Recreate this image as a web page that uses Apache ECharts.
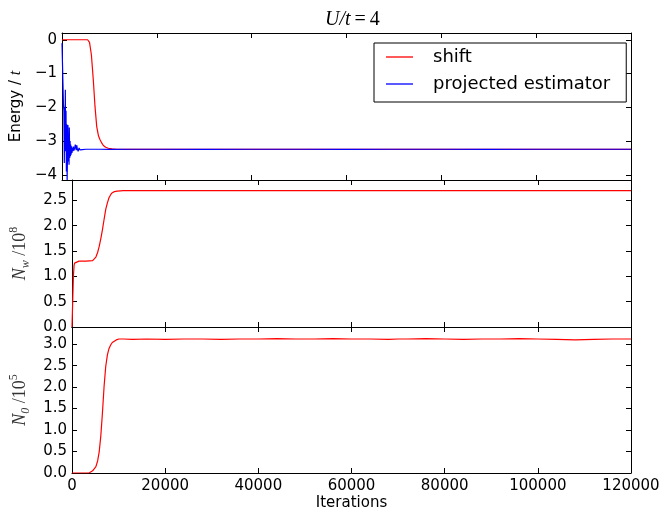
<!DOCTYPE html>
<html>
<head>
<meta charset="utf-8">
<script src="https://cdn.jsdelivr.net/npm/echarts@6/dist/echarts.min.js"></script>
<style>
  html, body { margin: 0; padding: 0; background: #fff; }
  #chart { width: 663px; height: 512px; }
</style>
</head>
<body>
<div id="chart"></div>
<script>
// iteration ticks + tick values for each panel
const iterTicks = [0, 20000, 40000, 60000, 80000, 100000, 120000];
const energyTicks = [0, -1, -2, -3, -4];
const nwTicks = [0, 0.5, 1.0, 1.5, 2.0, 2.5];
const n0Ticks = [0, 0.5, 1.0, 1.5, 2.0, 2.5, 3.0];

// shift (top panel, red)
const shiftIter = [0, 5400, 5800, 6200, 6600, 6960, 7320, 7700, 8020, 8400, 8720, 9200, 9780, 10500, 11500, 14000,
  20000, 30000, 40000, 50000, 60000, 70000, 80000, 90000, 100000, 110000, 120000];
const shiftVal = [0, 0, -0.08, -0.45, -1.19, -1.98, -2.57, -2.85, -2.96, -3.06, -3.13, -3.18, -3.21, -3.23, -3.24, -3.245,
  -3.245, -3.24, -3.245, -3.24, -3.245, -3.245, -3.24, -3.245, -3.24, -3.245, -3.245];

// projected estimator (top panel, blue)
const projIter = [0, 100, 200, 300, 400, 485, 560, 640, 700, 760, 844, 920, 1000, 1080, 1160, 1250, 1330, 1400, 1480,
  1540, 1620, 1700, 1780, 1830, 1920, 2000, 2100, 2200, 2300, 2390, 2500, 2650, 2800, 3000, 3100, 3250, 3400, 3600,
  3800, 4000, 4300, 4600, 5000, 6000, 8000, 10000, 15000, 20000, 30000, 40000, 50000, 60000, 70000, 80000, 90000,
  100000, 110000, 120000];
const projVal = [-0.1, -0.7, -1.3, -1.9, -2.1, -3.65, -2.0, -2.9, -1.48, -3.3, -2.1, -3.9, -2.5, -4.15, -3.4, -2.52,
  -3.6, -2.9, -3.7, -2.6, -3.5, -3.0, -3.45, -3.1, -3.4, -3.15, -3.35, -3.2, -3.3, -3.16, -3.28, -3.22, -3.1, -3.27,
  -3.12, -3.24, -3.3, -3.2, -3.26, -3.22, -3.25, -3.24, -3.24, -3.24, -3.24, -3.245, -3.24, -3.24, -3.245, -3.24,
  -3.24, -3.245, -3.24, -3.24, -3.245, -3.24, -3.24, -3.24];

// N_w / 10^8 (middle panel)
const nwIter = [0, 150, 300, 450, 560, 700, 1500, 3000, 4430, 4800, 5130, 5500, 5840, 6200, 6540, 6900, 7240, 7600,
  7940, 8300, 8650, 9100, 9700, 11000, 14000, 20000, 30000, 40000, 50000, 60000, 70000, 80000, 90000, 100000,
  110000, 120000];
const nwVal = [0, 0.5, 1.0, 1.22, 1.26, 1.29, 1.30, 1.30, 1.31, 1.33, 1.38, 1.47, 1.59, 1.75, 1.92, 2.13, 2.32, 2.45,
  2.55, 2.61, 2.65, 2.67, 2.68, 2.69, 2.69, 2.69, 2.69, 2.69, 2.69, 2.69, 2.69, 2.69, 2.69, 2.69, 2.69, 2.69];

// N_0 / 10^5 (bottom panel)
const n0Iter = [0, 2000, 3730, 4430, 5130, 5500, 5840, 6190, 6540, 6890, 7240, 7600, 7950, 8300, 8650, 9000, 9500,
  10060, 11000, 13000, 16000, 20000, 24000, 28000, 32000, 36000, 40000, 44000, 48000, 52000, 56000, 60000, 64000,
  68000, 70000, 72000, 76000, 80000, 84000, 88000, 92000, 96000, 100000, 104000, 108000, 112000, 116000, 120000];
const n0Val = [0, 0, 0.005, 0.05, 0.15, 0.28, 0.49, 0.87, 1.41, 2.02, 2.48, 2.75, 2.9, 2.98, 3.04, 3.08, 3.1,
  3.12, 3.12, 3.11, 3.12, 3.11, 3.12, 3.12, 3.11, 3.12, 3.12, 3.13, 3.12, 3.12, 3.13, 3.12, 3.12, 3.11, 3.12, 3.12,
  3.13, 3.12, 3.11, 3.12, 3.12, 3.13, 3.12, 3.11, 3.10, 3.11, 3.12, 3.12];

const pairs = (xs, ys) => xs.map((x, i) => [x, ys[i]]);
const minus = v => String(v).replace('-', '\u2212');

const chart = echarts.init(document.getElementById('chart'));

const grids = [
  { left: 62, right: 32, top: 33, height: 147 },
  { left: 62, right: 32, top: 180, height: 147 },
  { left: 62, right: 32, top: 327, height: 148 }
];

const lineCol = '#000';
const tickBase = { show: true, inside: true, length: 5, lineStyle: { color: lineCol, width: 1 } };
const labelFont = { fontFamily: 'DejaVu Sans', fontSize: 15, color: '#000' };
const mathFont = 'Liberation Serif';

function xAxisPair(gi, showLabels) {
  const common = {
    type: 'value', gridIndex: gi, min: 0, max: 120000,
    splitLine: { show: false },
    axisLine: { show: true, onZero: false, lineStyle: { color: lineCol, width: 1 } },
    axisTick: Object.assign({ customValues: iterTicks }, tickBase)
  };
  const bottom = Object.assign({}, common, {
    position: 'bottom',
    axisLabel: Object.assign({
      show: showLabels, margin: 6, customValues: iterTicks, formatter: v => String(v),
      alignMinLabel: 'center', alignMaxLabel: 'center', hideOverlap: false
    }, labelFont)
  });
  if (showLabels) {
    bottom.name = 'Iterations';
    bottom.nameLocation = 'middle';
    bottom.nameGap = 23;
    bottom.nameTextStyle = { fontFamily: 'DejaVu Sans', fontSize: 15, color: '#000' };
  }
  const top = Object.assign({}, common, { position: 'top', axisLabel: { show: false } });
  return [bottom, top];
}

function yAxisPair(gi, min, max, ticks, fmt, name, nameGap, rich) {
  const common = {
    type: 'value', gridIndex: gi, min: min, max: max,
    splitLine: { show: false },
    axisLine: { show: true, onZero: false, lineStyle: { color: lineCol, width: 1 } },
    axisTick: Object.assign({ customValues: ticks }, tickBase)
  };
  const left = Object.assign({}, common, {
    position: 'left',
    axisLabel: Object.assign({ margin: 5, customValues: ticks, formatter: fmt }, labelFont),
    name: name, nameLocation: 'middle', nameRotate: 90, nameGap: nameGap,
    nameTextStyle: { rich: rich }
  });
  const right = Object.assign({}, common, { position: 'right', axisLabel: { show: false } });
  return [left, right];
}

const mathRich = {
  i: { fontFamily: mathFont, fontStyle: 'italic', fontSize: 18, color: '#333', lineHeight: 24, verticalAlign: 'middle' },
  sub: { fontFamily: mathFont, fontStyle: 'italic', fontSize: 12, color: '#333', lineHeight: 24, verticalAlign: 'bottom' },
  n: { fontFamily: mathFont, fontSize: 18, color: '#333', lineHeight: 24, verticalAlign: 'middle' },
  sup: { fontFamily: mathFont, fontSize: 12, color: '#333', lineHeight: 24, verticalAlign: 'top' }
};
const energyRich = {
  s: { fontFamily: 'DejaVu Sans', fontSize: 15, color: '#000' },
  i: { fontFamily: mathFont, fontStyle: 'italic', fontSize: 16, color: '#000' }
};

const option = {
  animation: false,
  backgroundColor: '#fff',
  title: {
    text: '{i|U/t}{n|\u2009=\u20094}',
    left: 320, top: 5,
    textStyle: {
      fontWeight: 'normal',
      rich: {
        i: { fontFamily: mathFont, fontStyle: 'italic', fontWeight: 'normal', fontSize: 20, color: '#000' },
        n: { fontFamily: mathFont, fontWeight: 'normal', fontSize: 20, color: '#000' }
      }
    }
  },
  legend: {
    data: ['shift', 'projected estimator'],
    orient: 'vertical',
    left: 374, top: 43,
    padding: [4, 16, 8, 12],
    itemGap: 7,
    icon: 'rect',
    itemWidth: 27, itemHeight: 1.3,
    backgroundColor: '#fff',
    borderColor: '#000', borderWidth: 1,
    textStyle: { fontFamily: 'DejaVu Sans', fontSize: 18, color: '#000', lineHeight: 20, padding: [0, 0, 0, 15] }
  },
  grid: grids,
  xAxis: [].concat(xAxisPair(0, false), xAxisPair(1, false), xAxisPair(2, true)),
  yAxis: [].concat(
    yAxisPair(0, -4.15, 0.2, energyTicks, v => minus(v), '{s|Energy / }{i|t}', 34, energyRich),
    yAxisPair(1, 0, 2.9, nwTicks, v => v.toFixed(1), '{i|N}{sub|w}{n| /10}{sup|8}', 40, mathRich),
    yAxisPair(2, 0, 3.4, n0Ticks, v => v.toFixed(1), '{i|N}{sub|0}{n| /10}{sup|5}', 40, mathRich)
  ),
  series: [
    { name: 'shift', type: 'line', xAxisIndex: 0, yAxisIndex: 0, symbol: 'none',
      lineStyle: { color: '#ff0000', width: 1.2 }, itemStyle: { color: '#ff0000' },
      data: pairs(shiftIter, shiftVal) },
    { name: 'projected estimator', type: 'line', xAxisIndex: 0, yAxisIndex: 0, symbol: 'none',
      lineStyle: { color: '#0000ff', width: 1.2 }, itemStyle: { color: '#0000ff' },
      data: pairs(projIter, projVal) },
    { name: 'Nw', type: 'line', xAxisIndex: 2, yAxisIndex: 2, symbol: 'none',
      lineStyle: { color: '#ff0000', width: 1.2 }, itemStyle: { color: '#ff0000' },
      data: pairs(nwIter, nwVal) },
    { name: 'N0', type: 'line', xAxisIndex: 4, yAxisIndex: 4, symbol: 'none',
      lineStyle: { color: '#ff0000', width: 1.2 }, itemStyle: { color: '#ff0000' },
      data: pairs(n0Iter, n0Val) }
  ]
};

chart.setOption(option);
</script>
</body>
</html>
